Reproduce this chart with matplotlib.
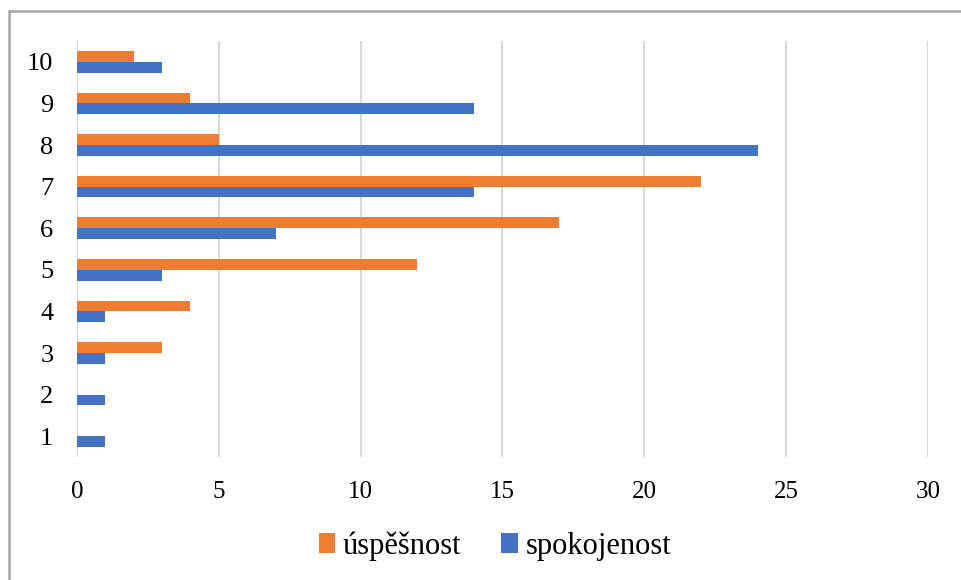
import numpy as np
import matplotlib

matplotlib.use('agg')
import matplotlib.pyplot as plt
from matplotlib.patches import Rectangle

categories = ["1", "2", "3", "4", "5", "6", "7", "8", "9", "10"]
uspesnost = [0, 0, 3, 4, 12, 17, 22, 5, 4, 2]
spokojenost = [1, 1, 1, 1, 3, 7, 14, 24, 14, 3]
x_ticks = [0, 5, 10, 15, 20, 25, 30]

plt.rcParams['font.family'] = ['Liberation Serif', 'DejaVu Serif']

ORANGE = '#ED7D31'
BLUE = '#4472C4'

fig = plt.figure(figsize=(9.61, 5.8), dpi=100)
ax = fig.add_axes([77 / 961, 1 - 457 / 580, (928 - 77) / 961, (457 - 41) / 580])

# outer border of the chart frame (only left and top visible in the crop)
fig.patches.append(Rectangle((9 / 961, -0.1), 1.2, 1 - 11 / 580 + 0.1,
                             transform=fig.transFigure, fill=False,
                             edgecolor='#A6A6A6', linewidth=1.8))

y = np.arange(1, len(categories) + 1)
h = 0.262
ax.barh(y - h / 2, spokojenost, height=h, color=BLUE, label='spokojenost', zorder=3)
ax.barh(y + h / 2, uspesnost, height=h, color=ORANGE, label='úspěšnost', zorder=3)

ax.set_xlim(0, 30)
ax.set_ylim(0.5, 10.5)
ax.set_xticks(x_ticks)
ax.set_yticks(y)
ax.set_yticklabels(categories)
ax.xaxis.grid(True, color='#D9D9D9', linewidth=1.5, zorder=0)
ax.tick_params(axis='both', length=0)
ax.tick_params(axis='y', pad=17, labelsize=19)
ax.tick_params(axis='x', pad=17, labelsize=18)
for s in ax.spines.values():
    s.set_visible(False)

handles, labels = ax.get_legend_handles_labels()
fig.legend(handles[::-1], labels[::-1], loc='center', bbox_to_anchor=(0.515, 1 - 546 / 580),
           ncol=2, frameon=False, fontsize=22, handlelength=0.55, handleheight=0.6,
           handletextpad=0.25, columnspacing=1.3)

fig.savefig('out.png', dpi=100)
